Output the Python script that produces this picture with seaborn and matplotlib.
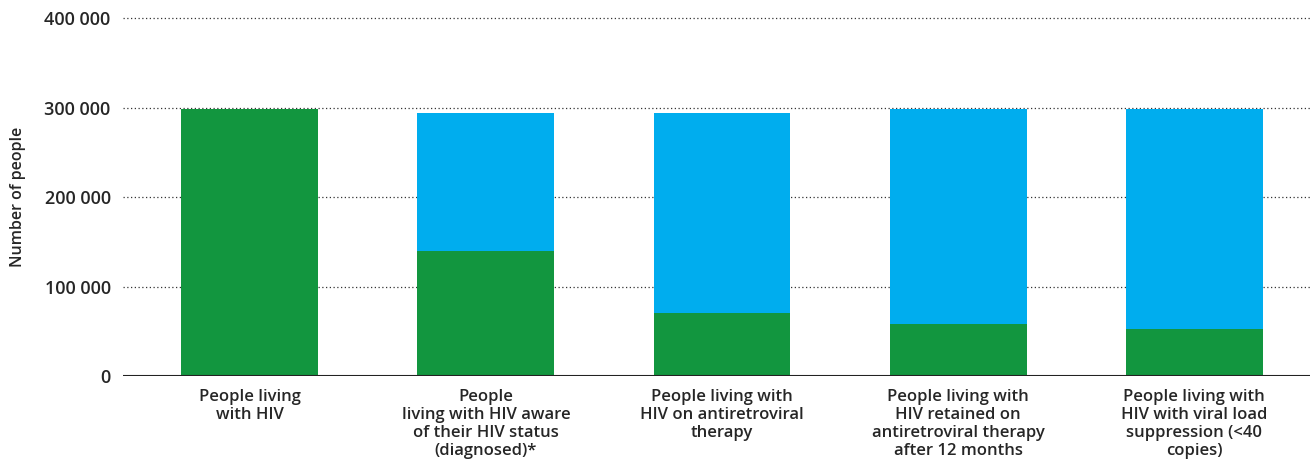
# HIV care cascade - stacked bars
import numpy as np
import pandas as pd
import matplotlib
matplotlib.use("Agg")
import matplotlib.pyplot as plt
from matplotlib.ticker import FuncFormatter
import seaborn as sns

# data
categories = [
    "People living\nwith HIV",
    "People\nliving with HIV aware\nof their HIV status\n(diagnosed)*",
    "People living with\nHIV on antiretroviral\ntherapy",
    "People living with\nHIV retained on\nantiretroviral therapy\nafter 12 months",
    "People living with\nHIV with viral load\nsuppression (<40\ncopies)",
]
bar_totals = [298000, 294000, 294000, 298300, 298300]
green_part = [298000, 139800, 70600, 58400, 52800]
y_ticks = [0, 100000, 200000, 300000, 400000]

green = "#12963F"
blue = "#00ADEE"

sns.set_style("white")
plt.rcParams['font.family'] = ['Open Sans', 'DejaVu Sans']

df = pd.DataFrame({'cat': categories, 'total': bar_totals, 'green': green_part})

fig = plt.figure(figsize=(13.1, 4.65), dpi=100)
ax = fig.add_axes([0.094, 0.191, 0.906, 0.770])

sns.barplot(data=df, x='cat', y='total', color=blue, width=0.58, saturation=1,
            linewidth=0, ax=ax)
sns.barplot(data=df, x='cat', y='green', color=green, width=0.58, saturation=1,
            linewidth=0, ax=ax)

ax.set_xlim(-0.536, 4.49)
ax.set_ylim(0, 400000)
ax.set_yticks(y_ticks)
ax.yaxis.set_major_formatter(FuncFormatter(lambda v, p: f"{int(v):,}".replace(",", " ")))

for t in y_ticks[1:]:
    ax.axhline(t, color="#333333", linestyle=(0, (1, 2)), linewidth=0.9, zorder=0, clip_on=False)
ax.axhline(0, color="#222222", linewidth=1.5, zorder=3)

for s in ax.spines.values():
    s.set_visible(False)

ax.tick_params(axis='y', length=0, pad=9, labelsize=13)
ax.tick_params(axis='x', length=0, pad=9, labelsize=12)
for lab in ax.get_yticklabels():
    lab.set_fontweight('semibold')
for lab in ax.get_xticklabels():
    lab.set_fontweight('semibold')
    lab.set_linespacing(1.18)

ax.set_xlabel("")
ax.set_ylabel("Number of people", fontsize=11.5, fontweight='semibold')
ax.yaxis.set_label_coords(-0.082, 0.5)

fig.savefig("out.png", dpi=100)
